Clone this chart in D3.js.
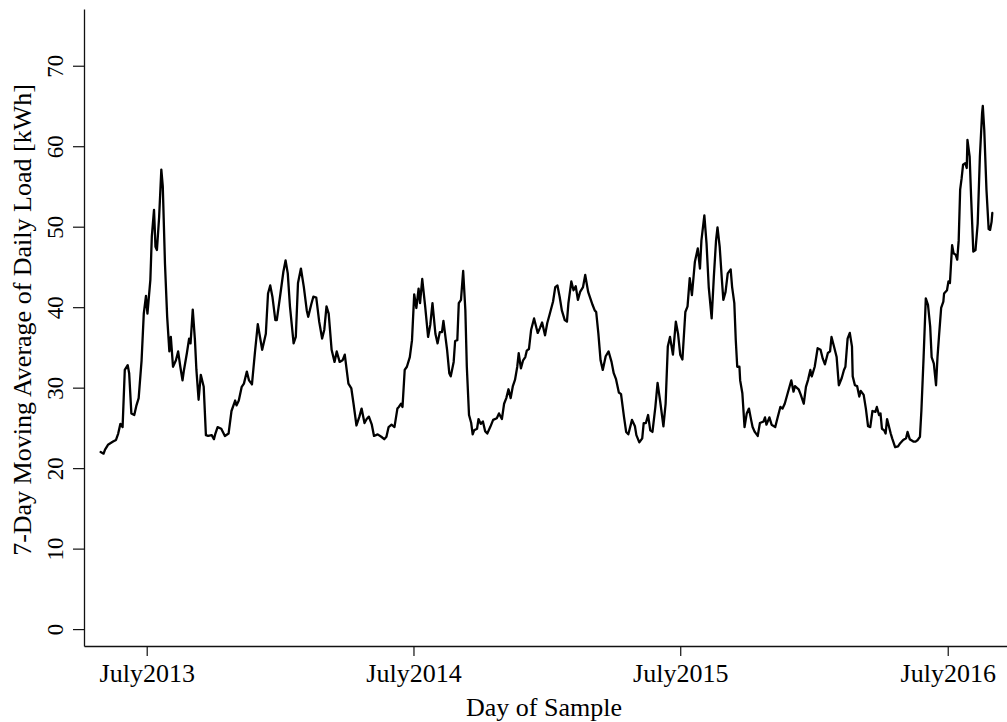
<!DOCTYPE html>
<html>
<head>
<meta charset="utf-8">
<script src="https://cdn.jsdelivr.net/npm/d3@7"></script>
<style>
  html, body { margin: 0; padding: 0; background: #fff; }
  svg { display: block; }
  text { font-family: "Liberation Serif", "Times New Roman", serif; fill: #000; }
</style>
</head>
<body>
<svg id="chart" width="1007" height="722"></svg>
<script>
// Daily samples start on this date; sampleDay counts days from it.
const startDate = "2013-04-29";

const sampleDay = [
  0, 4, 6, 10, 17, 21, 24, 27, 30, 33, 37, 39, 42, 46, 49, 52, 56, 59, 62, 64,
  68, 70, 73, 75, 77, 80, 83, 85, 88, 91, 94, 96, 99, 103, 106, 109, 112, 114, 118, 121,
  123, 126, 129, 131, 134, 137, 141, 144, 147, 152, 155, 157, 160, 165, 170, 175, 179, 184, 186, 189,
  193, 196, 200, 203, 207, 211, 215, 218, 221, 226, 229, 232, 235, 239, 241, 246, 250, 253, 256, 259,
  264, 267, 270, 274, 278, 282, 284, 288, 291, 295, 299, 303, 306, 309, 312, 316, 320, 323, 327, 331,
  334, 339, 343, 346, 350, 354, 357, 361, 364, 367, 371, 374, 379, 384, 388, 391, 394, 398, 402, 406,
  408, 411, 413, 416, 419, 423, 426, 429, 432, 435, 437, 440, 444, 448, 451, 454, 458, 461, 464, 467,
  469, 474, 477, 479, 483, 485, 488, 490, 493, 496, 499, 501, 504, 507, 509, 511, 515, 517, 520, 523,
  526, 529, 533, 537, 542, 545, 549, 552, 555, 558, 561, 564, 567, 570, 572, 575, 578, 581, 583, 586,
  589, 593, 598, 601, 604, 608, 611, 614, 619, 622, 625, 628, 631, 635, 638, 640, 644, 647, 650, 653,
  656, 660, 663, 667, 670, 673, 676, 678, 681, 684, 687, 691, 695, 699, 702, 705, 709, 712, 716, 719,
  722, 727, 731, 733, 737, 741, 743, 746, 749, 752, 755, 759, 762, 766, 770, 773, 776, 779, 783, 787,
  790, 793, 796, 800, 803, 806, 809, 813, 817, 820, 822, 826, 829, 832, 836, 839, 842, 844, 847, 850,
  852, 855, 858, 862, 864, 867, 869, 871, 874, 875, 878, 881, 884, 887, 890, 892, 895, 899, 902, 907,
  909, 911, 915, 918, 923, 926, 930, 933, 936, 940, 945, 948, 950, 955, 958, 962, 965, 968, 971, 973,
  977, 981, 985, 988, 991, 995, 998, 1000, 1004, 1007, 1010, 1014, 1017, 1019, 1022, 1025, 1028, 1029, 1032, 1035,
  1038, 1040, 1044, 1047, 1050, 1053, 1056, 1060, 1062, 1065, 1067, 1069, 1072, 1074, 1076, 1078, 1081, 1083, 1087, 1091,
  1094, 1098, 1102, 1104, 1107, 1112, 1115, 1118, 1121, 1123, 1126, 1129, 1132, 1135, 1137, 1140, 1143, 1145, 1147, 1150,
  1153, 1154, 1158, 1160, 1162, 1165, 1167, 1170, 1172, 1174, 1176, 1178, 1180, 1183, 1185, 1186, 1189, 1191, 1194, 1197,
  1200, 1203, 1206, 1207, 1209, 1212, 1215, 1217, 1219, 1220
];

// 7-day moving average of daily load, kWh
const loadKWh = [
  22.0, 21.8, 22.3, 22.9, 23.3, 23.5, 24.3, 25.5, 25.1, 32.2, 32.8, 31.8, 26.8, 26.6, 27.8, 28.7, 33.4, 39.2, 41.4, 39.2,
  43.4, 48.8, 52.1, 47.5, 47.1, 51.2, 57.1, 55.0, 45.4, 38.8, 34.5, 36.3, 32.6, 33.4, 34.5, 32.6, 30.9, 32.2, 34.3, 36.1,
  35.5, 39.7, 35.9, 32.2, 28.5, 31.6, 30.1, 24.1, 24.0, 24.1, 23.6, 24.3, 25.1, 24.9, 24.0, 24.3, 27.1, 28.4, 27.8, 28.4,
  30.1, 30.5, 32.0, 30.9, 30.4, 34.3, 37.9, 36.3, 34.7, 36.7, 41.7, 42.7, 41.3, 38.4, 38.4, 41.7, 44.4, 45.8, 44.2, 40.1,
  35.5, 36.3, 43.0, 44.8, 42.5, 39.6, 38.8, 40.3, 41.3, 41.2, 38.2, 36.1, 37.2, 40.1, 39.2, 34.7, 33.2, 34.5, 33.2, 33.4,
  34.1, 30.5, 29.9, 28.0, 25.3, 26.4, 27.4, 25.6, 26.1, 26.4, 25.4, 24.0, 24.2, 23.9, 23.6, 23.9, 25.1, 25.4, 25.1, 27.4,
  27.6, 28.0, 27.6, 32.2, 32.6, 33.8, 35.9, 41.6, 39.9, 42.3, 40.5, 43.5, 40.1, 36.3, 37.8, 40.5, 36.7, 35.5, 36.9, 36.9,
  38.3, 34.7, 31.8, 31.4, 33.2, 35.8, 35.9, 40.5, 40.9, 44.5, 39.6, 32.6, 26.6, 25.6, 24.2, 24.7, 24.9, 26.1, 25.5, 25.8,
  24.6, 24.3, 25.1, 26.0, 26.2, 26.8, 26.1, 28.0, 28.7, 29.8, 28.7, 30.2, 31.0, 32.6, 34.3, 32.4, 33.4, 33.8, 34.6, 34.8,
  37.2, 38.6, 36.8, 37.4, 38.1, 36.5, 38.0, 39.0, 40.7, 42.5, 42.7, 41.3, 39.6, 38.4, 38.2, 40.5, 43.2, 42.1, 42.6, 40.9,
  41.9, 42.5, 44.0, 41.9, 41.1, 40.3, 39.6, 39.4, 36.7, 33.4, 32.2, 33.9, 34.5, 33.2, 31.8, 31.1, 29.4, 29.2, 26.4, 24.5,
  24.2, 26.0, 25.2, 24.1, 23.2, 23.7, 25.6, 25.6, 26.6, 24.7, 24.5, 27.6, 30.6, 28.0, 25.2, 28.0, 35.1, 36.3, 34.1, 38.2,
  36.7, 34.1, 33.5, 39.4, 40.1, 43.6, 41.5, 45.6, 47.3, 44.8, 48.3, 51.4, 47.9, 42.5, 38.6, 43.8, 48.3, 49.9, 47.5, 43.4,
  40.9, 41.9, 44.2, 44.7, 42.5, 40.5, 35.9, 32.6, 32.6, 30.9, 29.3, 25.1, 26.8, 27.4, 26.0, 25.1, 24.5, 24.0, 25.6, 25.8,
  26.3, 25.4, 26.3, 25.4, 25.1, 26.2, 27.6, 27.4, 28.0, 29.3, 30.9, 29.5, 30.2, 29.8, 29.1, 28.0, 30.1, 31.0, 32.2, 31.4,
  32.6, 34.9, 34.7, 33.6, 32.9, 34.3, 34.5, 36.3, 34.9, 33.8, 30.3, 31.2, 32.2, 32.6, 36.1, 36.8, 35.1, 31.4, 30.3, 30.2,
  28.9, 29.6, 29.1, 27.4, 25.2, 25.1, 27.1, 27.0, 27.6, 26.6, 26.8, 24.9, 24.7, 24.3, 26.1, 25.4, 24.3, 23.7, 22.6, 22.7,
  23.1, 23.5, 23.7, 24.5, 23.6, 23.3, 23.3, 23.5, 23.9, 27.2, 33.8, 41.1, 40.3, 37.6, 33.8, 33.0, 30.3, 33.8, 36.3, 39.9,
  40.7, 41.7, 42.1, 43.2, 43.0, 47.7, 46.7, 46.5, 45.9, 48.3, 54.6, 56.0, 57.7, 57.9, 57.3, 60.8, 58.7, 53.7, 46.9, 47.1,
  50.4, 58.7, 64.1, 65.0, 62.0, 54.6, 49.7, 49.6, 50.6, 51.7
];

const yTickValues = [0, 10, 20, 30, 40, 50, 60, 70];
const xTickDates = ["2013-07-01", "2014-07-01", "2015-07-01", "2016-07-01"];
const xTickLabels = ["July2013", "July2014", "July2015", "July2016"];

const svg = d3.select("#chart");
const W = 1007, H = 722;
const plot = { left: 84, right: 1007, top: 9, bottom: 646 };

const parse = d3.utcParse("%Y-%m-%d");
const t0 = parse(startDate);
const DAY = 864e5;
const points = sampleDay.map((d, i) => ({ date: new Date(t0.getTime() + d * DAY), v: loadKWh[i] }));

// Axis range pads the sample period by a few weeks on both sides
const x = d3.scaleUtc()
  .domain([new Date(t0.getTime() - 22.8 * DAY), new Date(t0.getTime() + 1240.1 * DAY)])
  .range([plot.left, plot.right]);
const y = d3.scaleLinear().domain([-2.1, 77.05]).range([plot.bottom, plot.top]);

svg.append("rect").attr("width", W).attr("height", H).attr("fill", "#fff");

// x axis
const xAxis = d3.axisBottom(x)
  .tickValues(xTickDates.map(parse))
  .tickFormat((d, i) => xTickLabels[i])
  .tickSize(10)
  .tickSizeOuter(0)
  .tickPadding(0);
const gx = svg.append("g").attr("transform", `translate(0,${plot.bottom})`).call(xAxis);
gx.select(".domain").attr("stroke", "#111").attr("stroke-width", 1.3);
gx.selectAll(".tick line").attr("stroke", "#111").attr("stroke-width", 1.2);
gx.selectAll(".tick text")
  .attr("y", 36).attr("dy", 0)
  .attr("font-size", 26)
  .attr("font-family", "Liberation Serif, Times New Roman, serif")
  .attr("fill", "#000");

// y axis with labels turned to read upward
const yAxis = d3.axisLeft(y)
  .tickValues(yTickValues)
  .tickSize(11)
  .tickSizeOuter(0);
const gy = svg.append("g").attr("transform", `translate(${plot.left},0)`).call(yAxis);
gy.select(".domain").attr("stroke", "#111").attr("stroke-width", 1.3);
gy.selectAll(".tick line").attr("stroke", "#111").attr("stroke-width", 1.2);
gy.selectAll(".tick text")
  .attr("transform", "rotate(-90)")
  .attr("x", 0).attr("y", -21).attr("dy", 0)
  .attr("text-anchor", "middle")
  .attr("font-size", 23)
  .attr("font-family", "Liberation Serif, Times New Roman, serif")
  .attr("fill", "#000");

// axis titles
svg.append("text")
  .attr("transform", "translate(31,320) rotate(-90)")
  .attr("text-anchor", "middle")
  .attr("font-size", 26)
  .text("7-Day Moving Average of Daily Load [kWh]");

svg.append("text")
  .attr("x", 544).attr("y", 716)
  .attr("text-anchor", "middle")
  .attr("font-size", 26)
  .text("Day of Sample");

// series
const line = d3.line().x(d => x(d.date)).y(d => y(d.v));
svg.append("path")
  .datum(points)
  .attr("d", line)
  .attr("fill", "none")
  .attr("stroke", "#000")
  .attr("stroke-width", 2.3)
  .attr("stroke-linejoin", "round")
  .attr("stroke-linecap", "round");
</script>
</body>
</html>
